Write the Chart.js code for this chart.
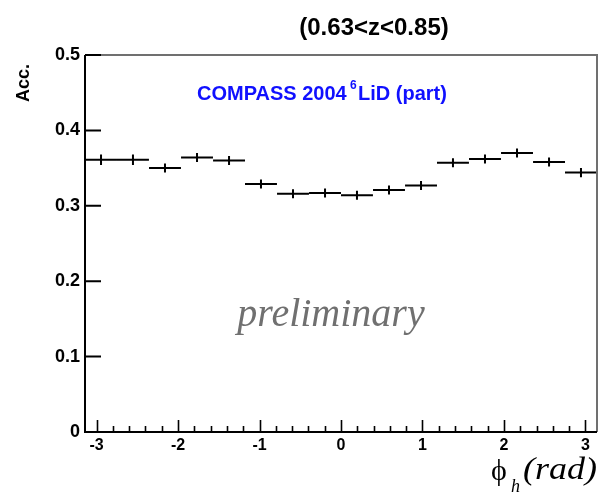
<!DOCTYPE html>
<html>
<head>
<meta charset="utf-8">
<script src="https://cdn.jsdelivr.net/npm/chart.js@4.4.1/dist/chart.umd.min.js"></script>
<style>
  html, body { margin: 0; padding: 0; background: #fff; }
  canvas { display: block; }
</style>
</head>
<body>
<canvas id="acc" width="598" height="494"></canvas>
<script>
// acceptance vs phi_h, 16 bins over [-pi, pi]
var phiCenters = [-2.945, -2.553, -2.160, -1.767, -1.374, -0.982, -0.589, -0.196,
                   0.196,  0.589,  0.982,  1.374,  1.767,  2.160,  2.553,  2.945];
var binHalfWidth = 0.196;
var acc    = [0.361, 0.361, 0.350, 0.364, 0.360, 0.329, 0.316, 0.317,
              0.314, 0.321, 0.327, 0.357, 0.362, 0.370, 0.358, 0.344];
var accErr = [0.007, 0.007, 0.006, 0.006, 0.006, 0.006, 0.006, 0.006,
              0.006, 0.006, 0.006, 0.006, 0.006, 0.006, 0.006, 0.006];

var xTickValues = [-3, -2, -1, 0, 1, 2, 3];
var xMinorStep = 0.2;
var yTickValues = [0, 0.1, 0.2, 0.3, 0.4, 0.5];

var SANS = '"Liberation Sans", Arial, sans-serif';
var SERIF = '"Liberation Serif", "Times New Roman", serif';

/**
 * Frame, inner ticks, error bars and the free text of the plot.
 */
var rootStyle = {
  id: 'rootStyle',
  afterDatasetsDraw: function(chart) {
    var ctx = chart.ctx, xs = chart.scales.x, ys = chart.scales.y;
    ctx.save();
    ctx.strokeStyle = '#000';
    ctx.lineWidth = 2;
    phiCenters.forEach(function(phi, i) {
      var x0 = xs.getPixelForValue(phi - binHalfWidth);
      var x1 = xs.getPixelForValue(phi + binHalfWidth);
      var xc = xs.getPixelForValue(phi);
      var y  = ys.getPixelForValue(acc[i]);
      var yLo = ys.getPixelForValue(acc[i] - accErr[i]);
      var yHi = ys.getPixelForValue(acc[i] + accErr[i]);
      ctx.beginPath();
      ctx.moveTo(x0, y); ctx.lineTo(x1, y);
      ctx.moveTo(xc, yLo); ctx.lineTo(xc, yHi);
      ctx.stroke();
    });
    ctx.restore();
  },
  afterDraw: function(chart) {
    var ctx = chart.ctx, a = chart.chartArea;
    var xs = chart.scales.x, ys = chart.scales.y;
    ctx.save();

    // top and right of the frame, grey
    ctx.strokeStyle = '#707070';
    ctx.lineWidth = 2;
    ctx.beginPath();
    ctx.moveTo(a.left, a.top); ctx.lineTo(a.right, a.top); ctx.lineTo(a.right, a.bottom);
    ctx.stroke();

    // left and bottom axes, black
    ctx.strokeStyle = '#000';
    ctx.beginPath();
    ctx.moveTo(a.left, a.top); ctx.lineTo(a.left, a.bottom); ctx.lineTo(a.right, a.bottom);
    ctx.stroke();

    // x ticks pointing up into the frame
    ctx.lineWidth = 1.6;
    ctx.beginPath();
    for (var t = -3; t <= 3.0001; t += xMinorStep) {
      var px = Math.round(xs.getPixelForValue(t)) + 0.5;
      var major = Math.abs(t - Math.round(t)) < 1e-6;
      ctx.moveTo(px, a.bottom);
      ctx.lineTo(px, a.bottom - (major ? 12 : 6));
    }
    ctx.stroke();

    // y ticks
    ctx.lineWidth = 2;
    ctx.beginPath();
    yTickValues.forEach(function(val) {
      var py = ys.getPixelForValue(val);
      ctx.moveTo(a.left, py); ctx.lineTo(a.left + 16, py);
    });
    ctx.stroke();

    // title
    ctx.fillStyle = '#000';
    ctx.font = 'bold 24px ' + SANS;
    ctx.textAlign = 'center';
    ctx.textBaseline = 'middle';
    ctx.fillText('(0.63<z<0.85)', 374, 28);

    // y title
    ctx.save();
    ctx.translate(24, 83);
    ctx.rotate(-Math.PI / 2);
    ctx.font = 'bold 18px ' + SANS;
    ctx.fillText('Acc.', 0, 0);
    ctx.restore();

    // experiment label
    ctx.fillStyle = '#1010ff';
    ctx.textAlign = 'left';
    ctx.textBaseline = 'alphabetic';
    ctx.font = 'bold 20px ' + SANS;
    ctx.fillText('COMPASS 2004', 197, 100);
    ctx.font = 'bold 12px ' + SANS;
    ctx.fillText('6', 350, 89);
    ctx.font = 'bold 20px ' + SANS;
    ctx.fillText('LiD (part)', 358, 100);

    // preliminary
    ctx.fillStyle = '#707070';
    ctx.font = 'italic 40px ' + SERIF;
    ctx.textAlign = 'center';
    ctx.fillText('preliminary', 331, 326);

    // x title: phi_h (rad)
    ctx.fillStyle = '#000';
    ctx.textAlign = 'left';
    ctx.font = '30px ' + SERIF;
    ctx.fillText('\u03d5', 491, 480);
    ctx.font = 'italic 18px ' + SERIF;
    ctx.fillText('h', 511, 492);
    ctx.save();
    ctx.font = 'italic 31px ' + SERIF;
    var w = ctx.measureText('(rad)').width;
    ctx.translate(523, 479);
    ctx.scale(74 / w, 1);
    ctx.fillText('(rad)', 0, 0);
    ctx.restore();

    ctx.restore();
  }
};

var canvas = document.getElementById('acc');
var chart = new Chart(canvas.getContext('2d'), {
  type: 'scatter',
  data: {
    datasets: [{
      data: phiCenters.map(function(phi, i) { return { x: phi, y: acc[i] }; }),
      pointRadius: 0,
      showLine: false
    }]
  },
  options: {
    responsive: false,
    animation: false,
    events: [],
    layout: { padding: { top: 55, right: 1, left: 0, bottom: 0 } },
    plugins: { legend: { display: false }, tooltip: { enabled: false } },
    scales: {
      x: {
        type: 'linear',
        min: -Math.PI,
        max: Math.PI,
        grid: { display: false, drawTicks: false },
        border: { display: false },
        afterBuildTicks: function(s) { s.ticks = xTickValues.map(function(v) { return { value: v }; }); },
        afterFit: function(s) { s.height = 62; },
        ticks: {
          autoSkip: false,
          maxRotation: 0,
          padding: 4,
          color: '#000',
          font: { family: SANS, size: 16, weight: 'bold' },
          callback: function(v) { return String(v); }
        }
      },
      y: {
        type: 'linear',
        min: 0,
        max: 0.5,
        grid: { display: false, drawTicks: false },
        border: { display: false },
        afterBuildTicks: function(s) { s.ticks = yTickValues.map(function(v) { return { value: v }; }); },
        afterFit: function(s) { s.width = 85; },
        ticks: {
          padding: 5,
          color: '#000',
          font: { family: SANS, size: 18, weight: 'bold' },
          callback: function(v) { return String(v); }
        }
      }
    }
  },
  plugins: [rootStyle]
});
</script>
</body>
</html>
